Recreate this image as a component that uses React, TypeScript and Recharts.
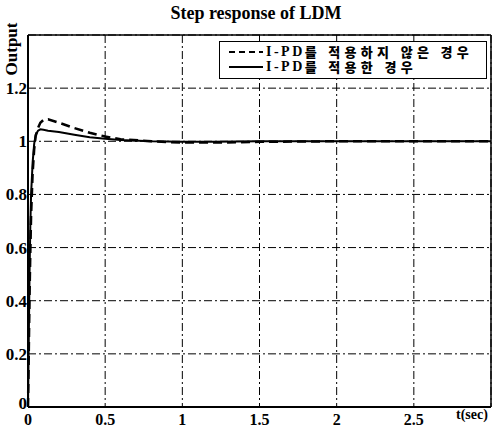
import React from "react";
import { LineChart, Line, XAxis, YAxis, CartesianGrid, ReferenceLine } from "recharts";

const times = [0, 0.005, 0.01, 0.015, 0.02, 0.03, 0.04, 0.05, 0.065, 0.08, 0.1, 0.13, 0.2, 0.3, 0.4, 0.5, 0.6, 0.8, 1.0, 1.2, 1.5, 2, 2.5, 3];
const withIPD = [0, 0.25, 0.5, 0.68, 0.8, 0.92, 0.99, 1.025, 1.04, 1.045, 1.043, 1.04, 1.035, 1.025, 1.015, 1.01, 1.005, 1.0, 0.998, 0.998, 1.0, 1.0, 1.0, 1.0];
const withoutIPD = [0, 0.2, 0.42, 0.58, 0.72, 0.88, 0.97, 1.02, 1.05, 1.07, 1.08, 1.083, 1.07, 1.05, 1.032, 1.018, 1.008, 1.0, 0.995, 0.995, 0.998, 1.0, 1.0, 1.0];
const xTicks = [0, 0.5, 1, 1.5, 2, 2.5];
const yTicks = [0, 0.2, 0.4, 0.6, 0.8, 1, 1.2];
const legendLabels = ["I-PD를 적용하지 않은 경우", "I-PD를 적용한 경우"];
const titleText = "Step response of LDM";
const yLabel = "Output";
const xLabel = "t(sec)";

const data = times.map((t, i) => ({ t, a: withoutIPD[i], b: withIPD[i] }));

const serif = "'Liberation Serif', 'Times New Roman', serif";
const xTickStyle = { fontFamily: serif, fontWeight: 700, fontSize: 16, fill: "#000" };

const YTick = (props: any) => {
  const { x, y, payload } = props;
  const shift = payload.value === 0 ? -4 : 0;
  return (
    <text x={x} y={y + shift} dy="0.355em" textAnchor="end" fontFamily={serif} fontWeight={700} fontSize={17} fill="#000">
      {String(payload.value)}
    </text>
  );
};

export default function App() {
  return (
    <div style={{ position: "absolute", left: 0, top: 0, width: 492, height: 431, background: "#fff" }}>
      <LineChart width={492} height={431} data={data} margin={{ top: 35, right: 1, bottom: 0, left: 0 }}>
        <CartesianGrid stroke="#000" strokeDasharray="8 3 2 3" strokeWidth={1} />
        <XAxis
          dataKey="t"
          type="number"
          domain={[0, 3]}
          ticks={xTicks}
          tickSize={0}
          tickMargin={7}
          height={24}
          axisLine={{ stroke: "#000", strokeWidth: 2 }}
          tick={xTickStyle}
          interval={0}
        />
        <YAxis
          type="number"
          domain={[0, 1.4]}
          ticks={yTicks}
          tickSize={0}
          tickMargin={1}
          width={28}
          axisLine={{ stroke: "#000", strokeWidth: 2 }}
          tick={<YTick />}
          interval={0}
        />
        <ReferenceLine y={1.4} stroke="#000" strokeWidth={1.5} />
        <ReferenceLine x={3} stroke="#000" strokeWidth={1.5} />
        <Line type="linear" dataKey="a" stroke="#000" strokeWidth={2.5} strokeDasharray="9 5" dot={false} isAnimationActive={false} />
        <Line type="linear" dataKey="b" stroke="#000" strokeWidth={2} dot={false} isAnimationActive={false} />
      </LineChart>
      <div style={{ position: "absolute", left: 0, width: 492, top: 3, textAlign: "center", paddingLeft: 20, boxSizing: "border-box", fontFamily: serif, fontWeight: 700, fontSize: 18, lineHeight: "20px" }}>
        {titleText}
      </div>
      <div style={{ position: "absolute", left: 12, top: 49, transform: "translate(-50%,-50%) rotate(-90deg)", fontFamily: serif, fontWeight: 700, fontSize: 17, whiteSpace: "nowrap" }}>
        {yLabel}
      </div>
      <div style={{ position: "absolute", left: 456, top: 407, fontFamily: serif, fontWeight: 700, fontSize: 14, lineHeight: "16px", whiteSpace: "nowrap" }}>
        {xLabel}
      </div>
      <div style={{ position: "absolute", left: 219, top: 41, width: 268, height: 38, border: "1px solid #000", background: "#fff", boxSizing: "border-box" }}>
        {legendLabels.map((lab, i) => (
          <div key={lab} style={{ position: "absolute", left: 8, top: 3 + i * 15, height: 13, display: "flex", alignItems: "center", whiteSpace: "nowrap" }}>
            <svg width={36} height={10} style={{ marginRight: 2 }}>
              <line x1={1} y1={5} x2={35} y2={5} stroke="#000" strokeWidth={2} strokeDasharray={i === 0 ? "6 4" : undefined} />
            </svg>
            <span style={{ fontFamily: serif, fontWeight: 700, fontSize: 14, lineHeight: "13px", letterSpacing: 2.5 }}>{lab.slice(0, 4)}</span>
            <span style={{ fontFamily: "'Noto Sans CJK KR', sans-serif", fontWeight: 900, fontSize: 13, lineHeight: "13px", letterSpacing: 4.3 }}>{lab.slice(4)}</span>
          </div>
        ))}
      </div>
    </div>
  );
}
